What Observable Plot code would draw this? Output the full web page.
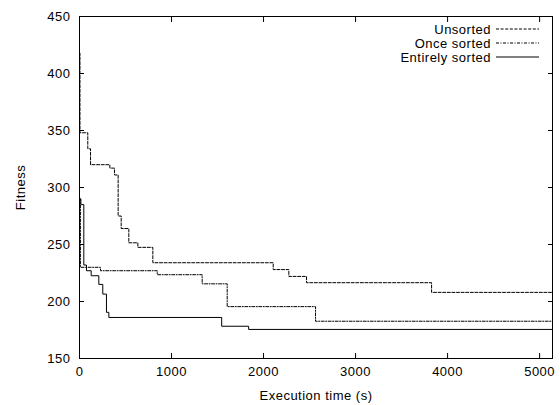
<!DOCTYPE html>
<html>
<head>
<meta charset="utf-8">
<script src="https://cdn.jsdelivr.net/npm/d3@7"></script>
<script src="https://cdn.jsdelivr.net/npm/@observablehq/plot@0.6"></script>
<style>
  html, body { margin: 0; padding: 0; background: #fff; }
  svg { font-family: "Liberation Sans", Arial, Helvetica, sans-serif; }
  svg text { letter-spacing: 0.5px; }
</style>
</head>
<body>
<div id="chart"></div>
<script>
// Data (step series: value holds from time[i] until time[i+1])
const seriesNames = ["Unsorted", "Once sorted", "Entirely sorted"];
const unsortedTime    = [0, 5, 90, 120, 330, 380, 420, 453, 536, 634, 797, 2105, 2275, 2467, 3826, 5140];
const unsortedFitness = [418, 348, 334, 320, 317, 311, 275, 264, 251.5, 247.5, 234, 228, 222, 216.5, 208, 208];
const onceTime        = [0, 10, 228, 845, 1333, 1605, 2565, 5140];
const onceFitness     = [290, 230, 227, 223.5, 215.5, 195.5, 182.7, 182.7];
const entireTime      = [0, 15, 47, 76, 127, 210, 253, 293, 319, 1545, 1838, 5140];
const entireFitness   = [290, 285, 232, 227, 222.6, 215, 206.5, 190.5, 186, 178.3, 175.5, 175.5];
const xTicks = [0, 1000, 2000, 3000, 4000, 5000];
const yTicks = [150, 200, 250, 300, 350, 400, 450];
const xDomain = [0, 5140];
const yDomain = [150, 450];

const dashes = ["3,1.6", "3,1.5,1,1.5", null];
const toRows = (t, v) => t.map((d, i) => ({time: d, fitness: v[i]}));
const rows = [toRows(unsortedTime, unsortedFitness), toRows(onceTime, onceFitness), toRows(entireTime, entireFitness)];

const font = {fontSize: 13};

const marks = [
  Plot.frame({stroke: "#000", strokeWidth: 1}),
  Plot.axisX({anchor: "bottom", ticks: xTicks, tickSize: -5, tickPadding: 13, tickFormat: d => String(d), label: null, fontSize: 13}),
  Plot.axisX({anchor: "top", ticks: xTicks, tickSize: -5, tickFormat: () => "", label: null}),
  Plot.axisY({anchor: "left", ticks: yTicks, tickSize: -5, tickPadding: 14, tickFormat: d => String(d), label: null, fontSize: 13}),
  Plot.axisY({anchor: "right", ticks: yTicks, tickSize: -5, tickFormat: () => "", label: null}),
  ...rows.map((r, i) => Plot.line(r, {x: "time", y: "fitness", curve: "step-after", stroke: "#000", strokeWidth: 1, strokeDasharray: dashes[i]})),
  Plot.text(["Execution time (s)"], {frameAnchor: "bottom", dy: 37, lineAnchor: "middle", fill: "#000", ...font}),
  Plot.text(["Fitness"], {frameAnchor: "left", dx: -59, rotate: -90, lineAnchor: "middle", textAnchor: "middle", fill: "#000", ...font}),
  ...seriesNames.map((n, i) => Plot.text([n], {frameAnchor: "top-right", dx: -61.5, dy: 13 + 14 * i, textAnchor: "end", lineAnchor: "middle", fill: "#000", ...font}))
];

const chart = Plot.plot({
  width: 560,
  height: 405,
  marginLeft: 79,
  marginRight: 8,
  marginTop: 16,
  marginBottom: 47,
  x: {domain: xDomain},
  y: {domain: yDomain},
  style: {background: "#fff", color: "#000", fontFamily: "'Liberation Sans', Arial, Helvetica, sans-serif"},
  marks
});
document.getElementById("chart").appendChild(chart);

// Legend line samples positioned from the plot's scales
const xScale = chart.scale("x"), yScale = chart.scale("y");
const frameRight = xScale.apply(xDomain[1]);
const frameTop = yScale.apply(yDomain[1]);
const svgSel = d3.select(chart);
seriesNames.forEach((n, i) => {
  svgSel.append("line")
    .attr("x1", frameRight - 56).attr("x2", frameRight - 13)
    .attr("y1", frameTop + 13 + 14 * i).attr("y2", frameTop + 13 + 14 * i)
    .attr("stroke", "#000").attr("stroke-width", 1)
    .attr("stroke-dasharray", dashes[i]);
});
</script>
</body>
</html>
